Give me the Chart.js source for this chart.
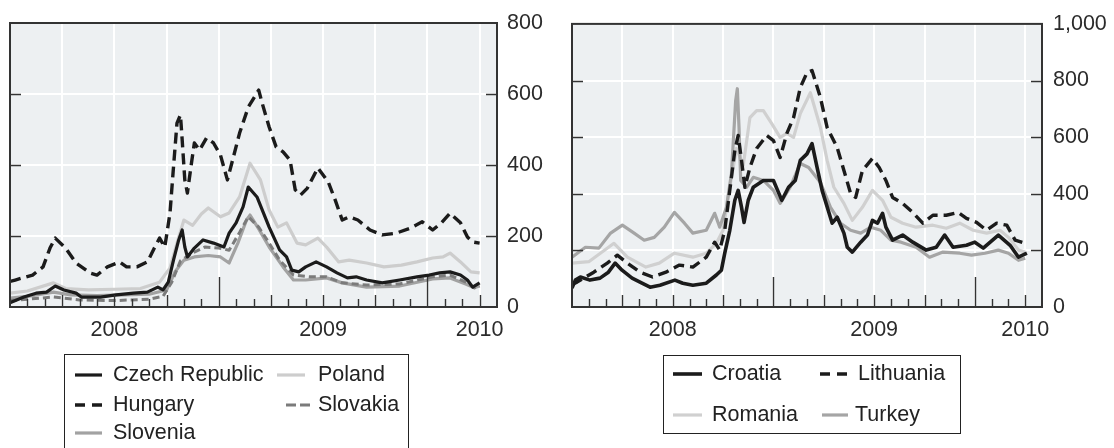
<!DOCTYPE html>
<html>
<head>
<meta charset="utf-8">
<script src="https://cdn.jsdelivr.net/npm/chart.js@4.4.1/dist/chart.umd.min.js"></script>
<style>
  html, body { margin: 0; padding: 0; background: #fff; }
  body { position: relative; width: 1114px; height: 448px; overflow: hidden;
         font-family: "Liberation Sans", Arial, Helvetica, sans-serif; color: #222; }
  canvas { position: absolute; top: 0; }
  #cL { left: 0; }
  #cR { left: 560px; }
  .box { position: absolute; border: 1.5px solid #222; box-sizing: border-box; background: #fff; }
  .lab { position: absolute; font-size: 21.5px; line-height: 1; white-space: nowrap;
         transform: translateY(-50%); color: #222; }
  #keys { position: absolute; left: 0; top: 0; }
</style>
</head>
<body>
<canvas id="cL" width="556" height="345"></canvas>
<canvas id="cR" width="554" height="345"></canvas>
<div class="box" style="left:64px;top:354px;width:345px;height:120px"></div>
<div class="box" style="left:663px;top:355px;width:298px;height:79px"></div>
<svg id="keys" width="1114" height="448"></svg>

<script>
// Months counted from the left edge of each panel (0 = start of 2008, 28 = end of axis)
const axisMonths = 28;
const yearLabels = { 6: '2008', 18: '2009', 27: '2010' };

// ---- Central Europe panel (basis points) ----
const czT = [0, 0.1, 0.8, 1.5, 2.1, 2.6, 3.1, 3.8, 4.1, 5.2, 6.1, 7.1, 7.9, 8.5, 8.8, 9.1, 9.4, 9.7, 9.9, 10.05, 10.2, 10.6, 11.1, 11.7, 12.3, 12.6, 13.0, 13.4, 13.7, 14.2, 14.9, 15.5, 15.9, 16.2, 16.6, 17.0, 17.6, 18.2, 18.8, 19.4, 19.9, 20.5, 21.4, 22.4, 23.4, 24.1, 24.7, 25.3, 25.9, 26.3, 26.6, 27.0];
const czV = [12, 14, 28, 39, 42, 59, 48, 39, 28, 28, 34, 39, 42, 56, 48, 70, 132, 189, 217, 169, 141, 166, 189, 180, 169, 208, 237, 282, 338, 310, 225, 161, 141, 104, 99, 113, 127, 113, 96, 82, 85, 76, 68, 76, 85, 90, 96, 99, 90, 76, 56, 68];

const huT = [0, 0.3, 1.3, 1.9, 2.3, 2.6, 3.2, 3.8, 4.6, 5.0, 5.6, 6.3, 6.7, 7.3, 7.9, 8.3, 8.6, 8.9, 9.2, 9.4, 9.6, 9.8, 9.9, 10.05, 10.2, 10.4, 10.6, 10.9, 11.3, 11.7, 12.1, 12.5, 12.8, 13.2, 13.7, 14.3, 14.5, 14.9, 15.3, 15.7, 16.1, 16.4, 16.7, 17.1, 17.7, 18.3, 18.7, 19.1, 19.5, 20.0, 20.7, 21.4, 22.2, 23.0, 23.7, 24.3, 24.8, 25.3, 25.9, 26.3, 26.6, 27.0];
const huV = [72, 76, 90, 113, 166, 194, 166, 124, 96, 90, 113, 127, 113, 113, 127, 166, 194, 169, 265, 394, 518, 541, 470, 358, 321, 394, 462, 442, 476, 462, 428, 358, 414, 490, 563, 611, 574, 507, 451, 437, 414, 330, 315, 335, 392, 352, 301, 245, 254, 245, 217, 203, 208, 222, 240, 217, 237, 264, 237, 197, 183, 180];

const plT = [0, 1.0, 2.5, 3.2, 4.5, 6.0, 7.5, 8.6, 9.2, 9.6, 10.0, 10.5, 11.0, 11.4, 12.1, 12.6, 13.2, 13.8, 14.4, 14.9, 15.4, 15.9, 16.5, 17.0, 17.7, 18.2, 18.9, 19.5, 20.5, 21.5, 22.5, 23.4, 24.3, 24.9, 25.3, 25.9, 26.5, 27.0];
const plV = [39, 45, 68, 52, 48, 50, 52, 70, 110, 180, 245, 230, 262, 279, 254, 265, 310, 405, 358, 273, 225, 237, 180, 175, 194, 169, 127, 132, 124, 113, 118, 127, 138, 141, 152, 127, 99, 96];

const skT = [0, 2.5, 4, 6, 8, 8.8, 9.3, 9.8, 10.5, 11.2, 12.0, 12.6, 13.2, 13.7, 14.3, 14.9, 15.5, 16.3, 17.2, 18.2, 19.1, 20.5, 22.4, 24.3, 25.3, 26.2, 26.7, 27.0];
const skV = [18, 28, 20, 18, 22, 30, 70, 130, 152, 169, 166, 160, 210, 254, 225, 180, 132, 90, 85, 85, 68, 62, 65, 85, 90, 70, 54, 58];

const siT = [0, 1, 2.5, 3.5, 5, 6.5, 8, 9.0, 9.5, 10.0, 10.6, 11.4, 12.1, 12.6, 13.1, 13.6, 13.8, 14.3, 14.9, 15.7, 16.3, 17.0, 18.2, 19.1, 20.5, 22.4, 24.3, 25.3, 26.2, 26.7, 27.0];
const siV = [25, 30, 42, 34, 32, 34, 36, 48, 100, 132, 141, 145, 141, 124, 180, 245, 259, 220, 169, 113, 76, 76, 82, 68, 56, 59, 79, 82, 65, 54, 60];

// ---- South-eastern / Baltic panel ----
const hrT = [0, 0.2, 0.5, 1.07, 1.67, 2.17, 2.57, 2.98, 3.58, 4.17, 4.65, 5.24, 6.13, 6.6, 7.2, 8.0, 8.6, 8.9, 9.1, 9.4, 9.7, 9.9, 10.1, 10.25, 10.5, 10.8, 11.4, 12.0, 12.3, 12.5, 12.9, 13.3, 13.6, 14.0, 14.3, 14.6, 14.9, 15.5, 15.8, 16.2, 16.4, 16.7, 17.2, 17.6, 17.9, 18.2, 18.5, 18.7, 19.1, 19.7, 20.3, 21.1, 21.7, 22.2, 22.7, 23.5, 24.0, 24.5, 25.4, 26.1, 26.6, 27.1];
const hrV = [67, 95, 106, 95, 102, 123, 155, 130, 102, 84, 70, 77, 95, 84, 77, 84, 113, 130, 190, 271, 377, 412, 352, 299, 377, 423, 447, 447, 405, 377, 423, 447, 518, 541, 577, 493, 412, 296, 317, 261, 211, 194, 229, 254, 306, 296, 331, 282, 236, 254, 229, 201, 211, 254, 211, 218, 229, 208, 254, 218, 176, 190];

const ltT = [0, 0.3, 1.3, 2.1, 2.7, 3.3, 4.05, 4.8, 5.6, 6.4, 7.2, 8.0, 8.5, 8.8, 9.1, 9.4, 9.7, 9.9, 10.1, 10.3, 10.6, 11.0, 11.6, 12.0, 12.4, 12.8, 13.2, 13.6, 14.0, 14.3, 14.8, 15.2, 15.8, 16.2, 16.6, 16.9, 17.3, 17.9, 18.3, 18.7, 19.1, 19.7, 20.3, 20.9, 21.5, 22.3, 23.0, 23.5, 24.1, 24.7, 25.3, 25.9, 26.4, 27.0];
const ltV = [80, 88, 123, 155, 183, 155, 123, 106, 123, 148, 141, 176, 229, 201, 271, 412, 553, 606, 518, 423, 493, 560, 606, 588, 528, 613, 669, 775, 828, 835, 740, 634, 563, 482, 401, 387, 482, 525, 493, 447, 387, 366, 334, 296, 324, 324, 334, 313, 299, 271, 296, 289, 236, 225];

const roT = [0, 1.0, 2.5, 3.3, 4.4, 5.2, 6.1, 7.2, 8.0, 8.6, 9.0, 9.4, 9.8, 10.2, 10.6, 11.0, 11.4, 11.9, 12.4, 12.8, 13.2, 13.6, 14.2, 14.8, 15.2, 15.6, 16.2, 16.7, 17.3, 17.9, 18.5, 19.0, 19.7, 20.5, 21.5, 22.3, 23.1, 23.9, 24.7, 25.5, 26.0, 26.6, 27.0];
const roV = [155, 160, 225, 176, 141, 155, 190, 176, 190, 225, 271, 423, 560, 500, 669, 694, 694, 648, 599, 613, 599, 683, 757, 634, 518, 423, 366, 306, 352, 412, 377, 317, 296, 282, 289, 278, 296, 271, 261, 271, 246, 201, 194];

const trT = [0, 0.8, 1.6, 2.3, 3.0, 3.7, 4.3, 4.9, 5.5, 6.1, 6.7, 7.2, 8.0, 8.5, 8.8, 9.2, 9.5, 9.75, 9.85, 9.95, 10.05, 10.4, 10.8, 11.4, 12.0, 12.4, 13.0, 13.6, 14.1, 14.8, 15.4, 16.0, 16.6, 17.2, 17.8, 18.4, 19.0, 19.6, 20.5, 21.3, 22.1, 23.1, 23.8, 24.6, 25.4, 26.0, 26.6, 27.0];
const trV = [176, 211, 208, 261, 289, 261, 236, 246, 282, 334, 296, 261, 271, 331, 282, 352, 472, 729, 771, 634, 447, 423, 458, 447, 412, 366, 423, 507, 493, 440, 352, 296, 271, 261, 282, 271, 236, 229, 211, 176, 194, 190, 183, 190, 201, 190, 165, 172];

// Line styles shared by the plotted series and the legend keys
const styles = {
  'Czech Republic': { color: '#1b1b1b', width: 3.2, dash: [] },
  'Hungary':        { color: '#1b1b1b', width: 3.4, dash: [11, 6] },
  'Poland':         { color: '#cdcdcd', width: 3.2, dash: [] },
  'Slovakia':       { color: '#7b7b7b', width: 3.0, dash: [7, 4] },
  'Slovenia':       { color: '#a2a2a2', width: 3.2, dash: [] },
  'Croatia':        { color: '#1b1b1b', width: 3.6, dash: [] },
  'Lithuania':      { color: '#1b1b1b', width: 3.4, dash: [11, 6] },
  'Romania':        { color: '#d0d0d0', width: 3.2, dash: [] },
  'Turkey':         { color: '#a5a5a5', width: 3.2, dash: [] }
};

const FONT = { family: '"Liberation Sans", Arial, Helvetica, sans-serif', size: 21.5 };
const TEXT = '#2b2b2b';
const INK = '#333333';

function series(name, t, v, order) {
  const s = styles[name];
  return {
    label: name,
    data: t.map((x, i) => ({ x: x, y: v[i] })),
    borderColor: s.color,
    borderWidth: s.width,
    borderDash: s.dash,
    borderCapStyle: 'butt',
    borderJoinStyle: 'round',
    pointRadius: 0,
    tension: 0,
    fill: false,
    order: order
  };
}

// Panel frame: shaded plot area, inward tick marks and the dark border
const frame = {
  id: 'frame',
  beforeDraw(chart) {
    const a = chart.chartArea, ctx = chart.ctx;
    ctx.save();
    ctx.fillStyle = '#edf0f2';
    ctx.fillRect(a.left, a.top, a.right - a.left, a.bottom - a.top);
    ctx.restore();
  },
  afterDatasetsDraw(chart) {
    const a = chart.chartArea, ctx = chart.ctx;
    const x = chart.scales.x, y = chart.scales.y;
    ctx.save();
    ctx.strokeStyle = INK;
    ctx.lineWidth = 1.4;
    ctx.beginPath();
    for (let m = 1; m < axisMonths; m++) {
      const px = Math.round(x.getPixelForValue(m)) + 0.5;
      const len = (m % 12 === 0) ? 30 : (m % 3 === 0 ? 12 : 8);
      ctx.moveTo(px, a.bottom);
      ctx.lineTo(px, a.bottom - len);
    }
    for (const t of y.ticks) {
      if (t.value <= y.min || t.value >= y.max) continue;
      const py = Math.round(y.getPixelForValue(t.value)) + 0.5;
      ctx.moveTo(a.left, py); ctx.lineTo(a.left + 11, py);
      ctx.moveTo(a.right - 11, py); ctx.lineTo(a.right, py);
    }
    ctx.stroke();
    ctx.lineWidth = 2;
    ctx.strokeRect(a.left, a.top, a.right - a.left, a.bottom - a.top);
    ctx.restore();
  }
};

function panel(canvasId, datasets, yMax, yStep, padLeft, yWidth, yPad) {
  return new Chart(document.getElementById(canvasId), {
    type: 'line',
    data: { datasets: datasets },
    plugins: [frame],
    options: {
      responsive: false,
      animation: false,
      events: [],
      devicePixelRatio: 1,
      layout: { padding: { left: padLeft, top: 23, right: 0, bottom: 0 } },
      plugins: { legend: { display: false }, tooltip: { enabled: false } },
      scales: {
        x: {
          type: 'linear',
          min: 0,
          max: axisMonths,
          afterBuildTicks(scale) {
            const ticks = [];
            for (let m = 0; m <= 27; m += 3) ticks.push({ value: m });
            ticks.push({ value: axisMonths });
            scale.ticks = ticks;
          },
          afterFit(scale) { scale.height = 38; },
          border: { display: false },
          grid: {
            drawTicks: false,
            lineWidth: 2,
            color: (c) => (c.tick && c.tick.value > 0 && c.tick.value < axisMonths) ? '#ffffff' : 'rgba(0,0,0,0)'
          },
          ticks: {
            autoSkip: false,
            maxRotation: 0,
            padding: 10,
            color: TEXT,
            font: FONT,
            callback: (v) => yearLabels[v] || ''
          }
        },
        y: {
          position: 'right',
          min: 0,
          max: yMax,
          afterFit(scale) { scale.width = yWidth; },
          border: { display: false },
          grid: {
            drawTicks: false,
            lineWidth: 2,
            color: (c) => (c.tick && c.tick.value > 0 && c.tick.value < yMax) ? '#ffffff' : 'rgba(0,0,0,0)'
          },
          ticks: {
            stepSize: yStep,
            padding: yPad,
            color: TEXT,
            font: FONT,
            callback: (v) => v.toLocaleString('en-US')
          }
        }
      }
    }
  });
}

panel('cL', [
  series('Czech Republic', czT, czV, 1),
  series('Hungary', huT, huV, 2),
  series('Slovakia', skT, skV, 3),
  series('Slovenia', siT, siV, 4),
  series('Poland', plT, plV, 5)
], 800, 200, 10, 59, 10);

panel('cR', [
  series('Croatia', hrT, hrV, 1),
  series('Lithuania', ltT, ltV, 2),
  series('Turkey', trT, trV, 3),
  series('Romania', roT, roV, 4)
], 1000, 200, 12, 72, 11);

// Legend keys: [name, key start, key end, row centre, text start]
const keyRows = [
  ['Czech Republic', 75, 102, 375, 113],
  ['Poland', 277, 305, 375, 318],
  ['Hungary', 75, 102, 405, 113],
  ['Slovakia', 286, 310, 405, 318],
  ['Slovenia', 75, 102, 433, 113],
  ['Croatia', 673, 702, 374, 712],
  ['Lithuania', 820, 848, 374, 858],
  ['Romania', 673, 702, 415, 712],
  ['Turkey', 822, 848, 415, 855]
];
const svg = document.getElementById('keys');
const NS = 'http://www.w3.org/2000/svg';
for (const [name, x1, x2, yc, tx] of keyRows) {
  const s = styles[name];
  const ln = document.createElementNS(NS, 'line');
  ln.setAttribute('x1', x1); ln.setAttribute('x2', x2);
  ln.setAttribute('y1', yc); ln.setAttribute('y2', yc);
  ln.setAttribute('stroke', s.color);
  ln.setAttribute('stroke-width', s.width);
  if (s.dash.length) ln.setAttribute('stroke-dasharray', name === 'Slovakia' ? '10 4' : '10 7');
  svg.appendChild(ln);
  const lab = document.createElement('div');
  lab.className = 'lab';
  lab.style.left = tx + 'px';
  lab.style.top = yc + 'px';
  lab.textContent = name;
  document.body.appendChild(lab);
}
</script>
</body>
</html>
